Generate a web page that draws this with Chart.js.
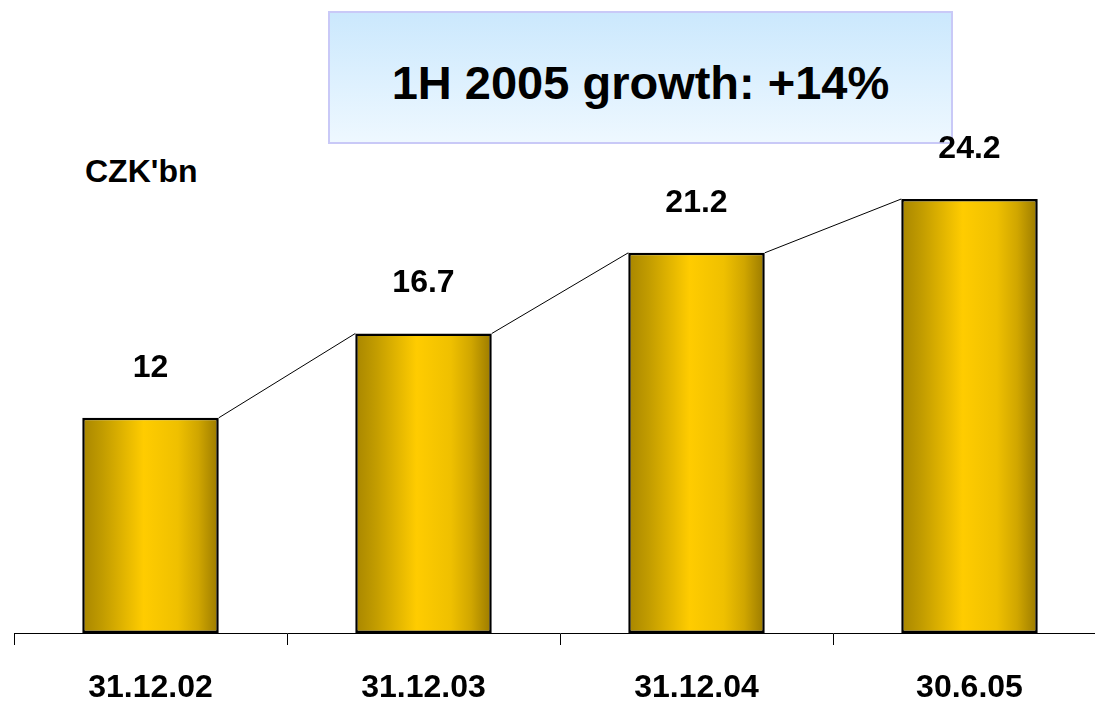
<!DOCTYPE html>
<html>
<head>
<meta charset="utf-8">
<script src="https://cdn.jsdelivr.net/npm/chart.js@4.4.1/dist/chart.umd.min.js"></script>
<style>
  html, body { margin: 0; padding: 0; background: #fff; overflow: hidden; width: 1095px; height: 701px; }
  #wrap { position: absolute; left: 0; top: 0; width: 1106px; height: 738px; z-index: 2; }
  #box {
    position: absolute; left: 328px; top: 11px; width: 621px; height: 129px; z-index: 1;
    border: 2px solid #c9c9f7;
    background: linear-gradient(to bottom, #cbe8fd 0%, #eef8ff 100%);
    font-family: "Liberation Sans", Arial, sans-serif; font-weight: bold; font-size: 47px;
    color: #000; text-align: center; line-height: 140px; box-sizing: content-box;
  }
  #unit {
    position: absolute; left: 85px; top: 153px;
    font-family: "Liberation Sans", Arial, sans-serif; font-weight: bold; font-size: 32px; color: #000;
  }
</style>
</head>
<body>
<div id="box">1H 2005 growth: +14%</div>
<div id="unit">CZK'bn</div>
<div id="wrap"><canvas id="c" width="1106" height="738"></canvas></div>
<script>
const categories = ["31.12.02", "31.12.03", "31.12.04", "30.6.05"];
const values = [12, 16.7, 21.2, 24.2];
const valueLabels = ["12", "16.7", "21.2", "24.2"];

const FONT = '"Liberation Sans", Arial, sans-serif';

function barGradient(context) {
  const chart = context.chart;
  const area = chart.chartArea;
  const xs = chart.scales.x;
  if (!area || !xs) return '#ffcc00';
  const cx = xs.getPixelForValue(context.dataIndex);
  const half = (area.width / categories.length) * 0.5 / 2;
  const g = chart.ctx.createLinearGradient(cx - half, 0, cx + half, 0);
  g.addColorStop(0, '#a88600');
  g.addColorStop(0.15, '#c29c00');
  g.addColorStop(0.45, '#ffcc00');
  g.addColorStop(0.7, '#efc000');
  g.addColorStop(0.85, '#d0a600');
  g.addColorStop(1, '#9a7a00');
  return g;
}

const connectorPlugin = {
  id: 'connectors',
  afterDatasetsDraw(chart) {
    const meta = chart.getDatasetMeta(0);
    const ctx = chart.ctx;
    ctx.save();
    ctx.strokeStyle = '#000';
    ctx.lineWidth = 1;
    for (let i = 0; i < meta.data.length - 1; i++) {
      const a = meta.data[i], b = meta.data[i + 1];
      ctx.beginPath();
      ctx.moveTo(a.x + a.width / 2, a.y);
      ctx.lineTo(b.x - b.width / 2, b.y);
      ctx.stroke();
    }
    ctx.restore();
  }
};

const valueLabelPlugin = {
  id: 'valueLabels',
  afterDatasetsDraw(chart) {
    const meta = chart.getDatasetMeta(0);
    const ctx = chart.ctx;
    ctx.save();
    ctx.fillStyle = '#000';
    ctx.font = 'bold 32px ' + FONT;
    ctx.textAlign = 'center';
    ctx.textBaseline = 'middle';
    meta.data.forEach((bar, i) => {
      ctx.fillText(valueLabels[i], bar.x, bar.y - 50);
    });
    ctx.restore();
  }
};

new Chart(document.getElementById('c'), {
  type: 'bar',
  data: {
    labels: categories,
    datasets: [{
      data: values,
      backgroundColor: barGradient,
      borderColor: '#000',
      borderWidth: 2.5,
      borderSkipped: false,
      barPercentage: 0.5,
      categoryPercentage: 1.0
    }]
  },
  options: {
    responsive: false,
    animation: false,
    devicePixelRatio: 1,
    layout: { padding: { left: 14, right: 0, top: 95, bottom: 7 } },
    plugins: { legend: { display: false }, tooltip: { enabled: false } },
    scales: {
      y: { display: false, min: 0, max: 30 },
      x: {
        offset: true,
        grid: { display: true, offset: true, drawOnChartArea: false, drawTicks: true, tickLength: 12, color: '#000', lineWidth: 1 },
        border: { display: true, color: '#000', width: 1 },
        ticks: {
          color: '#000',
          padding: 27,
          maxRotation: 0,
          font: { family: FONT, size: 32, weight: 'bold', lineHeight: 1 }
        }
      }
    }
  },
  plugins: [connectorPlugin, valueLabelPlugin]
});
</script>
</body>
</html>
